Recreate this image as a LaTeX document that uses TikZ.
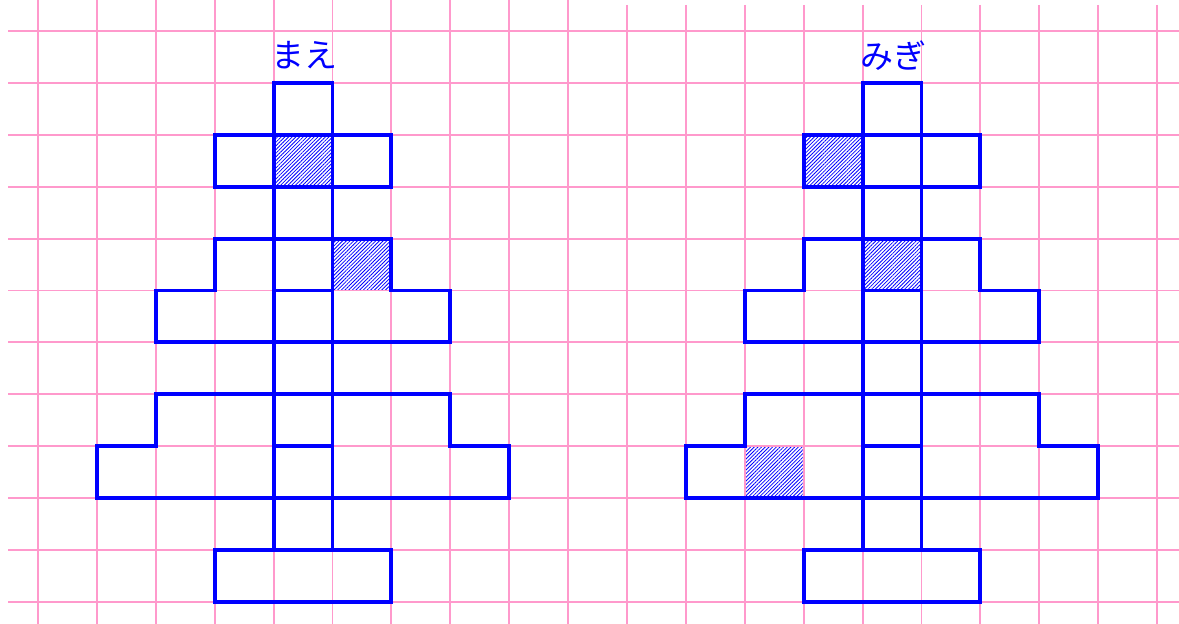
\documentclass[tikz,border=0pt]{standalone}
\usepackage{fontspec}
\newfontfamily\jpfont{Noto Sans CJK JP}
\usetikzlibrary{patterns.meta}
\definecolor{gridpink}{RGB}{255,153,204}
\begin{document}
\begin{tikzpicture}[x=29.45pt,y=-25.95pt,
  gridline/.style={draw=gridpink,line width=0.95pt},
  outline/.style={draw=blue,line width=1.95pt,line join=miter,line cap=rect},
  hatch/.style={pattern={Lines[angle=45,distance=1.3pt,line width=0.4pt]},pattern color=blue},
  lbl/.style={text=blue,inner sep=0pt,font=\jpfont\fontsize{16.5pt}{19pt}\selectfont}]
\useasboundingbox (-0.6452,-0.5973) rectangle (19.3718,11.4258);
% hatched cells
\foreach \c/\r in {4/2,5/4,13/2,14/4,12/8} \fill[hatch] (\c,\r) rectangle ++(1,1);
% grid
\foreach \y in {0,...,11} \draw[gridline] (-0.509,\y) -- (19.3718,\y);
\foreach \x in {0,...,9} \draw[gridline] (\x,-0.5973) -- (\x,11.4258);
\foreach \x in {10,...,19} \draw[gridline] (\x,-0.501) -- (\x,11.4258);
% two trees
\foreach \o in {0,10} {
  \begin{scope}[shift={(\o,0)}]
    \draw[outline] (4,1) -- (4,10);
    \draw[outline] (5,1) -- (5,10);
    \draw[outline] (4,2) -- (4,1) -- (5,1) -- (5,2);
    \draw[outline] (3,2) rectangle (6,3);
    \draw[outline] (3,4) -- (6,4) -- (6,5) -- (7,5) -- (7,6) -- (2,6) -- (2,5) -- (3,5) -- cycle;
    \draw[outline] (4,5) -- (5,5);
    \draw[outline] (2,7) -- (7,7) -- (7,8) -- (8,8) -- (8,9) -- (1,9) -- (1,8) -- (2,8) -- cycle;
    \draw[outline] (4,8) -- (5,8);
    \draw[outline] (3,10) rectangle (6,11);
  \end{scope}
}
\node[lbl] (mae) at (4.53,0.47) {まえ};
\node[lbl] (migi) at (14.52,0.47) {みぎ};
\end{tikzpicture}
\end{document}
